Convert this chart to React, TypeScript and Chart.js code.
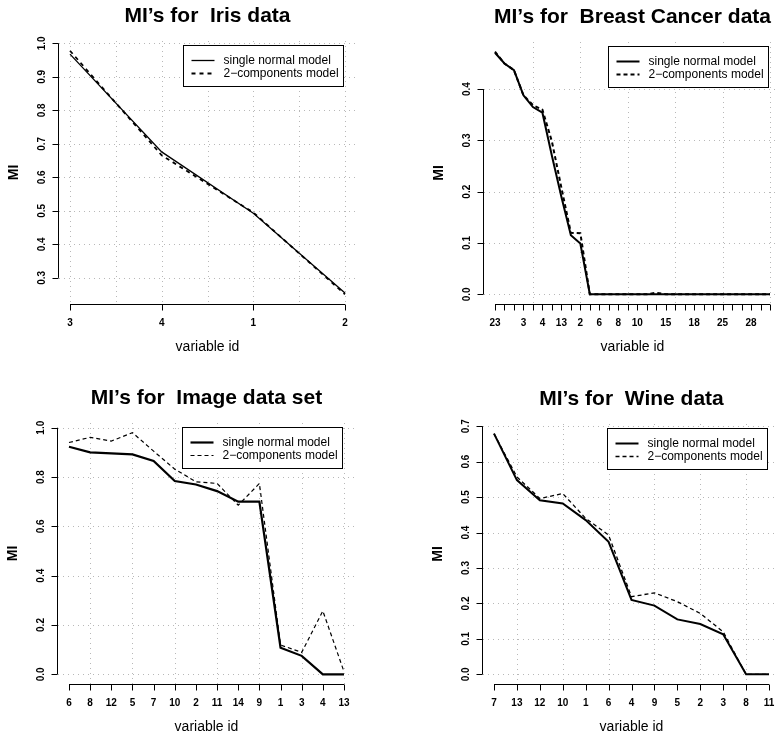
import React, { useEffect, useRef } from "react";
import { Chart, registerables } from "chart.js";

Chart.register(...registerables);

// ---------------- data ----------------
const irisIds = ["3", "4", "1", "2"];
const irisSingle = [0.968, 0.676, 0.493, 0.255];
const irisTwo = [0.978, 0.666, 0.495, 0.251];
const irisYTicks = [0.3, 0.4, 0.5, 0.6, 0.7, 0.8, 0.9, 1.0];
const irisGridX = [0, 0.5, 1, 1.5, 2, 2.5, 3];

const breastIds = [
  "23", "21", "24", "3", "1", "4", "14", "13", "22", "2", "5", "6", "7", "8", "9",
  "10", "11", "12", "15", "16", "17", "18", "19", "20", "25", "26", "27", "28", "29", "30",
];
const breastSingle = [
  0.471, 0.45, 0.437, 0.388, 0.365, 0.354, 0.27, 0.19, 0.115, 0.099, 0, 0, 0, 0, 0,
  0, 0, 0, 0, 0, 0, 0, 0, 0, 0, 0, 0, 0, 0, 0,
];
const breastTwo = [
  0.473, 0.45, 0.437, 0.388, 0.369, 0.36, 0.298, 0.208, 0.12, 0.119, 0, 0, 0, 0, 0,
  0, 0, 0.003, 0, 0, 0, 0, 0, 0, 0, 0, 0, 0, 0, 0,
];
const breastYTicks = [0.0, 0.1, 0.2, 0.3, 0.4];
const breastGridX = [4, 9, 14, 19, 24, 29];

const imageIds = ["6", "8", "12", "5", "7", "10", "2", "11", "14", "9", "1", "3", "4", "13"];
const imageSingle = [0.923, 0.9, 0.896, 0.892, 0.865, 0.784, 0.77, 0.743, 0.7, 0.7, 0.108, 0.075, 0, 0];
const imageTwo = [0.94, 0.961, 0.946, 0.98, 0.905, 0.832, 0.781, 0.774, 0.686, 0.774, 0.119, 0.089, 0.257, 0.011];
const imageYTicks = [0.0, 0.2, 0.4, 0.6, 0.8, 1.0];
const imageGridX = [1, 3, 5, 7, 9, 11, 13];

const wineIds = ["7", "13", "12", "10", "1", "6", "4", "9", "5", "2", "3", "8", "11"];
const wineSingle = [0.679, 0.548, 0.491, 0.482, 0.435, 0.374, 0.21, 0.194, 0.155, 0.142, 0.113, 0, 0];
const wineTwo = [0.679, 0.557, 0.496, 0.51, 0.44, 0.393, 0.219, 0.23, 0.205, 0.172, 0.12, 0, 0];
const wineYTicks = [0.0, 0.1, 0.2, 0.3, 0.4, 0.5, 0.6, 0.7];
const wineGridX = [1, 3, 5, 7, 9, 11];

const seriesNames = ["single normal model", "2\u2212components model"];
const xTitle = "variable id";
const yTitle = "MI";

// ---------------- styling ----------------
const FONT = '"Liberation Sans", Arial, Helvetica, sans-serif';
const GRID_COLOR = "#b8b8b8";

type Rect = { left: number; top: number; right: number; bottom: number };
type PanelCfg = {
  title: string;
  ids: string[];
  single: number[];
  two: number[];
  yTicks: number[];
  gridX: number[];
  canvas: { x: number; y: number; w: number; h: number };
  rect: Rect;
  solidWidth: number;
  dashWidth: number;
  dash: number[];
};

const panels: PanelCfg[] = [
  {
    title: "MI\u2019s for  Iris data",
    ids: irisIds, single: irisSingle, two: irisTwo, yTicks: irisYTicks, gridX: irisGridX,
    canvas: { x: 0, y: 0, w: 388, h: 368 },
    rect: { left: 59, top: 41, right: 356, bottom: 304 },
    solidWidth: 1.3, dashWidth: 1.8, dash: [4, 4],
  },
  {
    title: "MI\u2019s for  Breast Cancer data",
    ids: breastIds, single: breastSingle, two: breastTwo, yTicks: breastYTicks, gridX: breastGridX,
    canvas: { x: 385, y: 0, w: 400, h: 368 },
    rect: { left: 484, top: 42, right: 781, bottom: 304 },
    solidWidth: 2, dashWidth: 2, dash: [4, 3],
  },
  {
    title: "MI\u2019s for  Image data set",
    ids: imageIds, single: imageSingle, two: imageTwo, yTicks: imageYTicks, gridX: imageGridX,
    canvas: { x: 0, y: 368, w: 388, h: 368 },
    rect: { left: 58, top: 423, right: 355, bottom: 684 },
    solidWidth: 2.2, dashWidth: 1.2, dash: [4, 3],
  },
  {
    title: "MI\u2019s for  Wine data",
    ids: wineIds, single: wineSingle, two: wineTwo, yTicks: wineYTicks, gridX: wineGridX,
    canvas: { x: 385, y: 368, w: 400, h: 368 },
    rect: { left: 483, top: 424, right: 780, bottom: 684 },
    solidWidth: 2, dashWidth: 1.3, dash: [4, 3],
  },
];

function rStylePlugin(p: PanelCfg) {
  return {
    id: "rstyle",
    beforeDatasetsDraw(chart: any) {
      const { ctx, chartArea: a } = chart;
      const xs = chart.scales.x;
      const ys = chart.scales.y;
      ctx.save();
      ctx.strokeStyle = GRID_COLOR;
      ctx.lineWidth = 1;
      ctx.setLineDash([1, 4]);
      ctx.beginPath();
      for (const g of p.gridX) {
        const px = Math.round(xs.getPixelForValue(g)) + 0.5;
        ctx.moveTo(px, a.top);
        ctx.lineTo(px, a.bottom);
      }
      for (const g of p.yTicks) {
        const py = Math.round(ys.getPixelForValue(g)) + 0.5;
        ctx.moveTo(a.left, py);
        ctx.lineTo(a.right, py);
      }
      ctx.stroke();
      ctx.restore();
    },
    afterDraw(chart: any) {
      const { ctx, chartArea: a } = chart;
      const xs = chart.scales.x;
      const ys = chart.scales.y;
      const n = p.ids.length;
      ctx.save();
      ctx.setLineDash([]);
      ctx.strokeStyle = "#000";
      ctx.fillStyle = "#000";
      ctx.lineWidth = 1;

      // x axis
      const xb = Math.round(a.bottom) + 0.5;
      const x0 = xs.getPixelForValue(0);
      const x1 = xs.getPixelForValue(n - 1);
      ctx.beginPath();
      ctx.moveTo(x0, xb);
      ctx.lineTo(x1, xb);
      for (let i = 0; i < n; i++) {
        const px = Math.round(xs.getPixelForValue(i)) + 0.5;
        ctx.moveTo(px, xb);
        ctx.lineTo(px, xb + 6);
      }
      ctx.stroke();
      ctx.font = `bold 10px ${FONT}`;
      ctx.textAlign = "center";
      ctx.textBaseline = "middle";
      const gap = ctx.measureText("m").width;
      let lastRight = -Infinity;
      for (let i = 0; i < n; i++) {
        const px = xs.getPixelForValue(i);
        const w = ctx.measureText(p.ids[i]).width;
        if (px - w / 2 >= lastRight + gap) {
          ctx.fillText(p.ids[i], px, a.bottom + 19);
          lastRight = px + w / 2;
        }
      }

      // y axis
      const yl = Math.round(a.left) - 0.5;
      const yTop = ys.getPixelForValue(p.yTicks[p.yTicks.length - 1]);
      const yBot = ys.getPixelForValue(p.yTicks[0]);
      ctx.beginPath();
      ctx.moveTo(yl, yTop);
      ctx.lineTo(yl, yBot);
      for (const t of p.yTicks) {
        const py = Math.round(ys.getPixelForValue(t)) + 0.5;
        ctx.moveTo(yl, py);
        ctx.lineTo(yl - 6, py);
      }
      ctx.stroke();
      for (const t of p.yTicks) {
        const py = ys.getPixelForValue(t);
        ctx.save();
        ctx.translate(a.left - 17, py);
        ctx.rotate(-Math.PI / 2);
        ctx.fillText(t.toFixed(1), 0, 0);
        ctx.restore();
      }

      const cx = (a.left + a.right) / 2;
      const cy = (a.top + a.bottom) / 2;

      // titles
      ctx.font = `bold 21px ${FONT}`;
      ctx.fillText(p.title, cx, a.top - 25);
      ctx.font = `14px ${FONT}`;
      ctx.fillText(xTitle, cx, a.bottom + 43);
      ctx.save();
      ctx.translate(a.left - 45, cy);
      ctx.rotate(-Math.PI / 2);
      ctx.font = `bold 14px ${FONT}`;
      ctx.fillText(yTitle, 0, 0);
      ctx.restore();

      // legend
      const bw = 160;
      const bh = 41;
      const bl = Math.round(a.right - 13 - bw) + 0.5;
      const bt = Math.round(a.top + 4) + 0.5;
      ctx.fillStyle = "#fff";
      ctx.fillRect(bl, bt, bw, bh);
      ctx.strokeStyle = "#000";
      ctx.lineWidth = 1;
      ctx.strokeRect(bl, bt, bw, bh);
      const rows = [
        { y: bt + 15, w: p.solidWidth, dash: [] as number[] },
        { y: bt + 28, w: p.dashWidth, dash: p.dash },
      ];
      ctx.font = `12px ${FONT}`;
      ctx.textAlign = "left";
      rows.forEach((r, i) => {
        ctx.beginPath();
        ctx.lineWidth = r.w;
        ctx.setLineDash(r.dash);
        ctx.moveTo(bl + 8, r.y);
        ctx.lineTo(bl + 31, r.y);
        ctx.stroke();
        ctx.setLineDash([]);
        ctx.fillStyle = "#000";
        ctx.fillText(seriesNames[i], bl + 40, r.y);
      });
      ctx.restore();
    },
  };
}

function Panel({ cfg }: { cfg: PanelCfg }) {
  const ref = useRef<HTMLCanvasElement>(null);
  useEffect(() => {
    const n = cfg.ids.length;
    const all = cfg.single.concat(cfg.two);
    const ymin = Math.min(...all);
    const ymax = Math.max(...all);
    const yp = 0.04 * (ymax - ymin);
    const xp = 0.04 * (n - 1);
    const c = cfg.canvas;
    const r = cfg.rect;
    const chart = new Chart(ref.current as HTMLCanvasElement, {
      type: "line",
      data: {
        datasets: [
          {
            label: seriesNames[0],
            data: cfg.single.map((v, i) => ({ x: i, y: v })),
            borderColor: "#000",
            borderWidth: cfg.solidWidth,
            pointRadius: 0,
            tension: 0,
            fill: false,
          },
          {
            label: seriesNames[1],
            data: cfg.two.map((v, i) => ({ x: i, y: v })),
            borderColor: "#000",
            borderWidth: cfg.dashWidth,
            borderDash: cfg.dash,
            pointRadius: 0,
            tension: 0,
            fill: false,
          },
        ],
      },
      options: {
        animation: false,
        responsive: false,
        events: [],
        layout: {
          padding: {
            left: r.left - c.x,
            top: r.top - c.y,
            right: c.x + c.w - r.right,
            bottom: c.y + c.h - r.bottom,
          },
        },
        plugins: {
          legend: { display: false },
          tooltip: { enabled: false },
          title: { display: false },
        },
        scales: {
          x: { type: "linear", display: false, min: -xp, max: n - 1 + xp },
          y: { type: "linear", display: false, min: ymin - yp, max: ymax + yp },
        },
      },
      plugins: [rStylePlugin(cfg)],
    } as any);
    return () => chart.destroy();
  }, [cfg]);
  const c = cfg.canvas;
  return (
    <canvas
      ref={ref}
      width={c.w}
      height={c.h}
      style={{ position: "absolute", left: c.x, top: c.y, width: c.w, height: c.h }}
    />
  );
}

export default function App() {
  return (
    <div
      style={{
        position: "fixed",
        left: 0,
        top: 0,
        width: 775,
        height: 736,
        overflow: "hidden",
        background: "#fff",
      }}
    >
      {panels.map((p, i) => (
        <Panel key={i} cfg={p} />
      ))}
    </div>
  );
}
